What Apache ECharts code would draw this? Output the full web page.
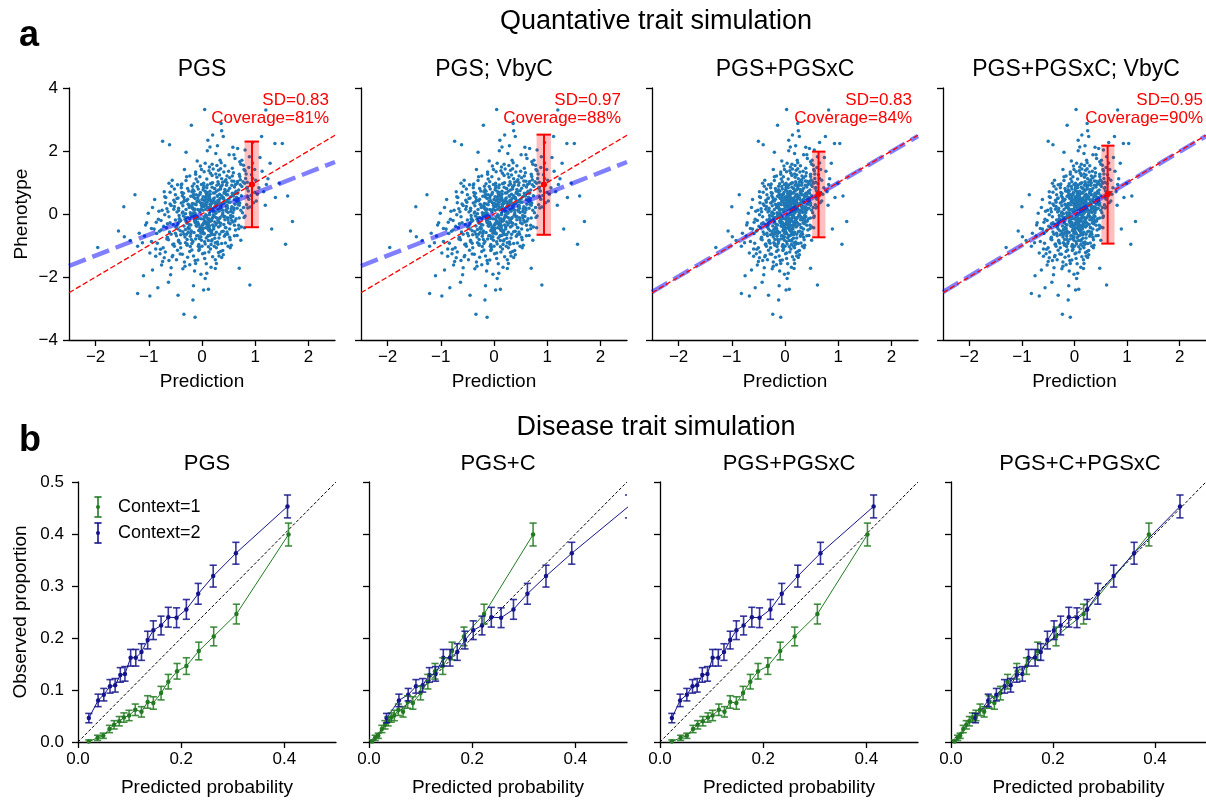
<!DOCTYPE html>
<html>
<head>
<meta charset="utf-8">
<script src="https://cdn.jsdelivr.net/npm/echarts@6/dist/echarts.min.js"></script>
<style>
html, body { margin: 0; padding: 0; background: #fff; }
#main { width: 1206px; height: 800px; }
</style>
</head>
<body>
<div id="main"></div>
<script>
var chart = echarts.init(document.getElementById('main'));
var FONT = '"Liberation Sans", Arial, sans-serif';

// ---------- a: quantitative trait ----------
var quantTitles = ['PGS', 'PGS; VbyC', 'PGS+PGSxC', 'PGS+PGSxC; VbyC'];
var predColumn = [0, 0, 1, 1];          // which prediction of the cloud each panel uses
var fitSlope = [0.66, 0.66, 0.99, 0.99];
var idealSlope = 1;
var binCenter = [0.94, 0.94, 0.63, 0.63];
var binMean = [0.94, 0.94, 0.63, 0.63];
var binLeft = [0.80, 0.80, 0.51, 0.51];
var binRight = [1.07, 1.07, 0.76, 0.76];
var binLow = [-0.42, -0.66, -0.74, -0.94];
var binHigh = [2.30, 2.52, 1.98, 2.17];
var binSD = ['0.83', '0.97', '0.83', '0.95'];
var coverage = [81, 88, 84, 90];
var predTicks = [-2, -1, 0, 1, 2];

// [prediction PGS, prediction PGS+PGSxC, phenotype]
var cloud = [
[0.12,0.08,-0.31],[-0.34,-0.23,0.52],[0.47,0.32,1.21],[-0.05,-0.03,-1.12],[0.71,0.48,0.35],[0.21,0.14,0.09],[-0.62,-0.42,-1.48],[0.02,0.01,0.77],
[0.33,0.22,-0.64],[-0.18,-0.12,0.18],[0.95,0.65,1.62],[0.08,0.05,-0.05],[-0.41,-0.28,-0.93],[0.56,0.38,1.05],[-0.09,-0.06,0.41],[0.27,0.18,-1.57],
[-0.77,-0.52,-0.21],[0.15,0.10,0.63],[0.39,0.27,0.12],[-0.26,-0.18,-0.58],[0.04,0.03,1.34],[0.62,0.42,-0.22],[-0.51,-0.35,0.37],[0.18,0.12,-0.86],
[1.21,0.82,0.94],[-0.13,-0.09,-0.27],[0.44,0.30,0.71],[0.06,0.04,-2.05],[-0.36,-0.24,0.06],[0.25,0.17,0.33],[-0.98,-0.67,-1.24],[0.51,0.35,1.88],
[-0.02,-0.01,0.15],[0.31,0.21,-0.41],[-0.22,-0.15,-1.03],[0.74,0.50,0.58],[0.10,0.07,0.92],[-0.47,-0.32,-0.37],[0.36,0.24,0.24],[-0.07,-0.05,-0.69],
[0.58,0.39,-0.08],[0.14,0.10,1.49],[-0.31,-0.21,-0.12],[0.83,0.56,1.27],[-0.14,-0.10,-1.81],[0.22,0.15,0.48],[-0.66,-0.45,-0.79],[0.40,0.27,-0.55],
[0.01,0.01,-0.36],[-0.39,-0.27,0.83],[0.66,0.45,0.97],[0.19,0.13,-0.14],[-0.11,-0.07,0.29],[0.49,0.33,-1.02],[-0.85,-0.58,-0.62],[0.29,0.20,2.17],
[1.02,0.69,0.41],[-0.24,-0.16,-0.45],[0.09,0.06,0.57],[0.37,0.25,1.12],[-0.56,-0.38,-1.36],[0.16,0.11,-0.23],[-0.03,-0.02,0.68],[0.69,0.47,-0.47],
[-0.19,-0.13,-0.07],[0.45,0.31,0.39],[-1.12,-0.76,-0.91],[0.23,0.16,0.81],[0.53,0.36,-0.31],[-0.08,-0.05,-1.46],[0.11,0.07,0.21],[-0.44,-0.30,0.11],
[0.30,0.20,-0.96],[0.78,0.53,1.55],[-0.28,-0.19,-0.29],[0.05,0.03,0.44],[-0.70,-0.48,-0.02],[0.42,0.29,0.66],[0.17,0.12,-0.59],[-0.15,-0.10,0.96],
[0.26,0.18,0.02],[-0.50,-0.34,-0.61],[0.87,0.59,0.73],[-0.01,-0.01,-0.83],[0.34,0.23,1.71],[-0.33,-0.22,0.44],[0.13,0.09,-1.21],[0.60,0.41,0.19],
[-0.12,-0.08,-0.18],[0.20,0.14,0.99],[-0.73,-0.50,-1.07],[0.48,0.33,-0.12],[0.07,0.05,-0.44],[-0.29,-0.20,1.18],[1.13,0.77,1.36],[-0.04,-0.03,0.07],
[0.38,0.26,0.53],[-0.60,-0.41,0.69],[0.03,0.02,-2.41],[0.24,0.16,-0.66],[-0.21,-0.14,-0.03],[0.67,0.46,1.03],[-0.93,-0.63,-1.78],[0.15,0.10,0.31],
[0.52,0.35,-0.74],[-0.16,-0.11,0.62],[0.28,0.19,0.27],[-0.45,-0.31,-0.48],[0.81,0.55,2.03],[-0.06,-0.04,-0.97],[0.35,0.24,0.86],[-1.35,-0.92,-0.84],
[0.09,0.06,-0.12],[0.61,0.41,0.46],[-0.37,-0.25,-1.28],[0.19,0.13,1.58],[-0.10,-0.07,-0.39],[0.43,0.29,-0.18],[-0.58,-0.39,0.27],[0.72,0.49,1.09],
[-0.25,-0.17,0.73],[0.11,0.07,-0.71],[0.90,0.61,0.22],[-0.03,-0.02,0.36],[0.32,0.22,-1.33],[-0.80,-0.54,-0.55],[0.21,0.14,0.67],[0.46,0.31,0.91],
[0.00,0.00,-0.58],[-0.43,-0.29,-0.16],[0.57,0.39,1.45],[0.14,0.10,0.03],[-0.17,-0.12,-0.87],[0.99,0.67,0.68],[-0.68,-0.46,0.52],[0.27,0.18,-0.29],
[0.36,0.24,0.15],[-0.08,-0.05,1.02],[0.63,0.43,-0.51],[-0.32,-0.22,-0.73],[0.06,0.04,0.54],[-1.04,-0.71,-0.28],[0.40,0.27,2.46],[0.17,0.12,-1.69],
[-0.53,-0.36,-0.95],[0.25,0.17,0.38],[0.75,0.51,0.87],[-0.14,-0.10,0.16],[0.10,0.07,-0.34],[-0.38,-0.26,0.95],[0.49,0.33,0.05],[1.28,0.87,1.61],
[-0.20,-0.14,-0.54],[0.04,0.03,0.24],[0.55,0.37,-0.99],[-0.63,-0.43,-2.17],[0.31,0.21,0.76],[-0.01,-0.01,1.41],[0.68,0.46,0.31],[-0.27,-0.18,-0.11],
[0.22,0.15,-0.41],[-0.75,-0.51,0.12],[0.41,0.28,1.33],[0.08,0.05,-0.76],[-0.35,-0.24,0.38],[0.85,0.58,1.01],[-0.11,-0.07,-0.25],[0.59,0.40,0.62],
[-0.46,-0.31,-1.15],[0.16,0.11,0.13],[0.34,0.23,-0.37],[-0.89,-0.61,0.46],[0.04,0.03,0.89],[0.70,0.48,-0.13],[-0.23,-0.16,-1.61],[0.28,0.19,1.17],
[1.07,0.73,0.83],[-0.13,-0.09,0.49],[0.12,0.08,-1.04],[-0.54,-0.37,-0.33],[0.47,0.32,0.28],[-0.02,-0.01,-0.15],[0.26,0.18,1.92],[-0.31,-0.21,0.01],
[0.64,0.44,0.44],[0.03,0.02,-0.62],[-0.71,-0.48,-1.39],[0.37,0.25,0.58],[-0.07,-0.05,0.79],[0.18,0.12,-0.21],[-0.40,-0.27,-0.66],[0.93,0.63,1.25],
[-0.16,-0.11,-2.28],[0.44,0.30,-0.43],[0.09,0.06,1.11],[-0.26,-0.18,0.31],[0.76,0.52,0.04],[-0.95,-0.65,-0.46],[0.21,0.14,0.42],[0.53,0.36,-0.82],
[-0.04,-0.03,0.63],[0.30,0.20,0.14],[-0.57,-0.39,0.88],[0.13,0.09,-0.52],[0.62,0.42,1.76],[-0.19,-0.13,-0.94],[1.38,0.94,0.52],[-0.09,-0.06,-0.29],
[0.39,0.27,-0.02],[-0.33,-0.22,-1.52],[0.07,0.05,0.26],[0.80,0.54,0.98],[-0.64,-0.44,0.07],[0.24,0.16,-0.77],[-0.12,-0.08,1.26],[0.50,0.34,0.37],
[-1.21,-0.82,-1.02],[0.19,0.13,0.85],[0.35,0.24,-1.19],[-0.05,-0.03,0.11],[0.58,0.39,0.61],[-0.42,-0.29,-0.24],[0.02,0.01,-0.46],[0.73,0.50,1.58],
[0.15,0.10,0.47],[-0.28,-0.19,-0.81],[0.46,0.31,0.09],[-0.82,-0.56,-0.17],[0.11,0.07,2.34],[0.32,0.22,-0.26],[-0.15,-0.10,-0.59],[1.16,0.79,0.71],
[-0.37,-0.25,0.58],[0.05,0.03,-1.24],[0.66,0.45,0.39],[-0.09,-0.06,-0.08],[0.27,0.18,0.72],[-0.59,-0.40,-1.93],[0.43,0.29,1.04],[0.01,0.01,0.33],
[0.20,0.14,-0.65],[-0.24,-0.16,0.28],[0.88,0.60,1.48],[-0.48,-0.33,-0.69],[0.14,0.10,0.18],[0.52,0.35,0.82],[-1.46,-0.99,-0.72],[0.33,0.22,-0.14],
[-0.06,-0.04,-0.33],[0.61,0.41,-0.36],[-0.30,-0.20,1.06],[0.23,0.16,0.51],[-0.69,-0.47,-1.21],[0.09,0.06,-1.88],[0.42,0.29,0.69],[-0.18,-0.12,0.19],
[0.71,0.48,1.19],[-0.02,-0.01,-0.48],[0.29,0.20,0.36],[-0.52,-0.35,0.24],[0.17,0.12,-0.97],[-0.87,-0.59,-1.11],[0.54,0.37,-0.05],[0.06,0.04,1.61],
[-0.34,-0.23,-0.38],[0.38,0.26,0.92],[0.12,0.08,-0.24],[1.01,0.69,1.07],[-0.21,-0.14,0.56],[0.25,0.17,-1.45],[-0.62,-0.42,-0.09],[0.46,0.31,0.25],
[0.03,0.02,0.84],[-0.44,-0.30,-0.87],[0.67,0.46,0.66],[-0.13,-0.09,-0.02],[0.31,0.21,1.39],[-1.06,-0.72,-0.35],[0.18,0.12,-0.53],[0.84,0.57,0.29],
[-0.27,-0.18,-1.37],[0.10,0.07,0.38],[0.48,0.33,-0.64],[-0.08,-0.05,0.51],[0.57,0.39,1.21],[-0.39,-0.27,0.35],[0.22,0.15,0.06],[-0.76,-0.52,-1.62],
[0.35,0.24,0.79],[-0.10,-0.07,-0.69],[0.78,0.53,0.21],[0.07,0.05,-0.31],[-0.50,-0.34,0.61],[0.29,0.20,-0.89],[-0.03,-0.02,1.52],[0.63,0.43,0.94],
[-0.22,-0.15,0.04],[0.16,0.11,-1.11],[1.24,0.84,1.12],[-0.67,-0.46,-0.44],[0.41,0.28,0.47],[-0.14,-0.10,-0.22],[0.08,0.05,0.65],[0.50,0.34,-0.28],
[-0.93,-0.63,0.21],[0.26,0.18,1.27],[-0.05,-0.03,-1.05],[0.60,0.41,0.13],[0.13,0.09,-0.16],[-0.36,-0.24,-0.56],[0.89,0.61,1.82],[0.00,0.00,0.22],
[0.44,0.30,-0.92],[-0.17,-0.12,0.77],[0.23,0.16,0.08],[-0.55,-0.37,-0.97],[0.69,0.47,0.76],[0.04,0.03,-0.63],[-0.29,-0.20,0.42],[0.37,0.25,2.64],
[0.11,0.07,-0.47],[-0.72,-0.49,-0.39],[0.54,0.37,0.55],[-0.12,-0.08,1.33],[0.30,0.20,-0.20],[0.97,0.66,0.36],[-0.41,-0.28,-1.27],[0.19,0.13,0.34],
[-0.07,-0.05,-0.14],[0.45,0.31,1.09],[-0.25,-0.17,-0.48],[0.74,0.50,-0.41],[0.06,0.04,0.72],[-1.18,-0.80,-0.61],[0.33,0.22,0.17],[-0.46,-0.31,0.93],
[0.27,0.18,-1.07],[0.02,0.01,0.55],[0.81,0.55,1.37],[-0.32,-0.22,-0.17],[0.15,0.10,-0.68],[-0.60,-0.41,0.32],[0.49,0.33,0.74],[1.45,0.99,0.98],
[-0.20,-0.14,-0.81],[0.39,0.27,0.03],[-0.01,-0.01,0.94],[0.58,0.39,-0.25],[-0.84,-0.57,-0.93],[0.21,0.14,1.43],[-0.11,-0.07,-0.36],[0.65,0.44,0.53],
[0.08,0.05,-1.58],[-0.53,-0.36,0.15],[0.32,0.22,0.41],[-0.23,-0.16,-1.19],[0.92,0.63,0.59],[0.14,0.10,-0.02],[-0.38,-0.26,0.68],[0.47,0.32,-0.57],
[-0.65,-0.44,-0.74],[0.24,0.16,0.22],[0.04,0.03,-0.27],[0.71,0.48,1.66],[-0.15,-0.10,0.12],[0.40,0.27,-1.29],[-1.01,-0.69,0.02],[0.18,0.12,0.98],
[0.56,0.38,0.23],[-0.06,-0.04,-0.52],[0.28,0.19,1.54],[-0.45,-0.31,-0.29],[0.12,0.08,0.46],[0.79,0.54,-0.11],[-0.28,-0.19,-0.95],[0.36,0.24,0.88],
[-0.09,-0.06,0.39],[0.62,0.42,0.67],[-0.58,-0.39,-1.71],[0.20,0.14,-0.35],[1.09,0.74,1.79],[-0.19,-0.13,0.71],[0.43,0.29,-0.08],[0.05,0.03,-0.88],
[0.33,0.22,0.63],[-0.79,-0.54,-1.26],[0.16,0.11,0.26],[-0.03,-0.02,-0.41],[0.52,0.35,1.15],[-0.35,-0.24,-0.06],[0.73,0.50,0.12],[0.10,0.07,2.01],
[-0.43,-0.29,-0.05],[0.25,0.17,-0.91],[0.85,0.58,0.84],[-0.16,-0.11,-1.33],[0.38,0.26,0.32],[-0.70,-0.48,0.55],[0.07,0.05,-0.07],[0.59,0.40,1.31],
[0.17,0.12,-0.19],[-0.27,-0.18,0.47],[0.48,0.33,0.18],[-0.02,-0.01,-0.72],[0.29,0.20,0.56],[-0.49,-0.33,-0.42],[0.09,0.06,0.83],[0.66,0.45,-0.68],
[-0.13,-0.09,-1.48],[0.35,0.24,0.27],[0.02,0.01,0.12],[-0.61,-0.41,-0.57],[0.56,0.38,0.91],[0.22,0.15,-0.48],[-0.30,-0.20,0.14],[0.77,0.52,1.02],
[0.06,0.04,-0.23],[-0.40,-0.27,-1.07],[0.31,0.21,0.95],[-0.18,-0.12,0.33],[0.45,0.31,-0.44],[0.13,0.09,0.59],[-0.86,-0.58,-0.26],[0.26,0.18,0.05],
[0.51,0.35,0.48],[-0.08,-0.05,-0.26],[0.19,0.13,1.22],[-0.34,-0.23,-0.64],[0.70,0.48,0.28],[0.00,0.00,-1.02],[-0.52,-0.35,0.79],[0.41,0.28,-0.33],
[-0.24,-0.16,0.21],[0.12,0.08,-0.84],[0.60,0.41,1.04],[-0.14,-0.10,-0.12],[0.34,0.23,0.49],[-0.74,-0.50,-1.51],[0.23,0.16,-0.07],[0.03,0.02,0.44],
[0.42,0.29,-0.71],[-0.21,-0.14,-0.35],[0.15,0.10,0.72],[0.68,0.46,0.41],[-0.47,-0.32,0.06],[0.27,0.18,-0.12],[-0.04,-0.03,1.18],[0.86,0.58,0.55],
[-0.31,-0.21,-0.91],[0.08,0.05,0.29],[0.37,0.25,-0.56],[-0.11,-0.07,0.61],[0.53,0.36,0.37],[-0.63,-0.43,-0.82],[0.20,0.14,0.15],[0.99,0.67,1.41],
[0.04,0.03,-0.61],[-0.36,-0.24,0.26],[0.64,0.44,-0.15],[0.16,0.11,0.42],[-0.06,-0.04,-1.16],[0.46,0.31,0.61],[-0.90,-0.61,-0.48],[0.30,0.20,1.02],
[-0.17,-0.12,0.02],[0.55,0.37,0.16],[0.11,0.07,-0.37],[-0.42,-0.29,-0.15],[0.82,0.56,1.13],[0.24,0.16,0.81],[-0.05,-0.03,-0.53],[0.39,0.27,-1.16],
[0.14,0.10,0.53],[-0.55,-0.37,-1.32],[0.47,0.32,0.43],[-0.23,-0.16,1.21],[0.07,0.05,-0.02],[0.61,0.41,0.86],[-0.12,-0.08,-0.79],[0.32,0.22,0.09],
[0.18,0.12,0.36],[-0.22,-0.15,-0.71],[0.54,0.37,0.08],[-0.47,-0.32,0.49],[0.05,0.03,-1.41],[0.36,0.24,1.63],[-0.10,-0.07,-0.12],[0.73,0.50,-0.83],
[-0.60,-0.41,-0.28],[0.27,0.18,-0.58],[0.10,0.07,0.68],[-0.33,-0.22,1.41],[0.64,0.44,0.72],[-0.02,-0.01,-1.91],[0.42,0.29,0.35],[-0.81,-0.55,0.09],
[0.31,0.21,-1.22],[-0.07,-0.05,0.58],[0.88,0.60,0.47],[0.13,0.09,-0.49],[-0.41,-0.28,-0.53],[0.50,0.34,1.36],[-0.18,-0.12,0.88],[0.22,0.15,-0.09],
[-0.36,-0.24,-1.74],[0.60,0.41,1.88],[0.02,0.01,-0.31],[-0.71,-0.48,0.71],[0.44,0.30,-0.65],[0.16,0.11,0.96],[-0.26,-0.18,-0.43],[1.04,0.71,0.63],
[0.07,0.05,0.15],[-0.52,-0.35,-1.02],[0.38,0.26,-0.04],[-0.09,-0.06,1.68],[0.69,0.47,-0.36],[0.25,0.17,0.23],[-0.95,-0.65,-0.87],[0.12,0.08,-0.68],
[0.47,0.32,0.99],[-0.14,-0.10,0.32],[0.20,0.14,-1.36],[-0.44,-0.30,0.18],[0.79,0.54,1.41],[0.00,0.00,0.46],[-0.28,-0.19,-0.99],[0.58,0.39,0.04],
[-0.05,-0.03,-0.78],[0.34,0.23,-0.11],[-0.65,-0.44,-0.31],[0.15,0.10,2.13],[0.53,0.36,-1.07],[-0.19,-0.13,0.25],[0.91,0.62,0.96],[0.09,0.06,0.61],
[-0.39,-0.27,0.92],[0.26,0.18,-0.35],[0.66,0.45,0.18],[-0.12,-0.08,-1.57],[0.40,0.27,0.52],[-0.77,-0.52,-0.51],[0.03,0.02,0.98],[0.49,0.33,-0.19],
[0.21,0.14,-0.03],[-0.30,-0.20,-0.24],[0.75,0.51,1.71],[-0.01,-0.01,0.28],[0.32,0.22,-0.76],[-0.56,-0.38,1.07],[0.14,0.10,-0.46],[1.19,0.81,0.28],
[-0.16,-0.11,0.54],[0.43,0.29,0.78],[0.06,0.04,-0.95],[-0.48,-0.33,-1.45],[0.62,0.42,0.31],[0.24,0.16,-0.25],[-0.08,-0.05,0.14],[0.35,0.24,1.44],
[0.11,0.07,-0.15],[-0.69,-0.47,0.36],[0.52,0.35,-0.48],[-0.21,-0.14,-0.62],[0.28,0.19,0.91],[0.84,0.57,0.82],[-0.37,-0.25,0.03],[0.01,0.01,-1.26],
[0.45,0.31,0.13],[-0.11,-0.07,1.11],[0.19,0.13,-0.82],[-0.58,-0.39,-0.64],[0.70,0.48,1.26],[0.08,0.05,0.37],[-0.24,-0.16,-0.33],[0.37,0.25,-1.38],
[-0.87,-0.59,-1.34],[0.30,0.20,0.44],[0.04,0.03,-0.09],[0.57,0.39,0.66],[-0.15,-0.10,0.72],[0.23,0.16,-1.02],[-0.45,-0.31,0.51],[0.81,0.55,-0.06],
[0.16,0.11,1.29],[-0.31,-0.21,-0.49],[0.48,0.33,0.61],[-0.04,-0.03,-0.44],[0.35,0.24,-0.29],[-0.62,-0.42,0.98],[0.12,0.08,0.19],[0.67,0.46,2.08],
[-0.19,-0.13,-1.14],[0.41,0.28,-0.09],[0.08,0.05,0.49],[-0.40,-0.27,-0.21],[0.95,0.65,1.13],[0.18,0.12,-0.57],[-0.06,-0.04,0.42],[0.29,0.20,0.58],
[0.56,0.38,-0.21],[-0.27,-0.18,0.81],[0.13,0.09,1.37],[-0.78,-0.53,-1.12],[0.37,0.25,-0.94],[0.03,0.02,-0.17],[0.72,0.49,0.93],[-0.13,-0.09,0.03],
[0.24,0.16,0.67],[-0.50,-0.34,-0.19],[0.61,0.41,-0.69],[-0.07,-0.05,-1.02],[0.43,0.29,1.53],[0.10,0.07,-0.28],[-0.35,-0.24,0.66],[0.86,0.58,0.19],
[-0.23,-0.16,-0.14],[0.32,0.22,0.34],[-1.08,-0.73,-0.70],[0.19,0.13,0.17],[0.54,0.37,-0.12],[-0.02,-0.01,-0.61],[0.39,0.27,1.01],[-0.44,-0.30,-0.83],
[0.06,0.04,0.31],[0.68,0.46,0.49],[-0.29,-0.20,-0.64],[0.25,0.17,-1.73],[-0.09,-0.06,0.87],[0.47,0.32,0.22],[-0.66,-0.45,0.17],[0.14,0.10,-0.37],
[0.80,0.54,-0.44],[-0.16,-0.11,-0.05],[0.33,0.22,1.24],[0.01,0.01,-0.55],[-0.53,-0.36,0.44],[0.59,0.40,0.57],[0.20,0.14,-0.11],[-0.32,-0.22,-1.66],
[-1.96,-1.30,-1.06],[1.70,1.16,-0.24],[-0.34,-0.23,-3.18],[-0.13,-0.08,-3.28],[0.05,0.03,3.32],[1.20,0.82,3.30],[-0.20,-0.14,2.82],[1.61,1.09,0.57],
[1.57,1.07,-0.96],[1.51,1.03,2.24],[1.37,0.93,2.24],[-1.57,-1.07,-0.54],[-1.47,-1.00,0.23],[-1.21,-0.82,-2.52],[-0.98,-0.67,-2.60],[-0.74,-0.50,2.31],
[-0.61,-0.41,2.20],[0.90,0.61,-2.25],[1.31,0.89,-0.48],[-1.26,-0.86,0.61],[0.36,0.24,2.87],[-0.45,-0.31,-2.58],[1.12,0.76,2.46],[-1.10,-0.75,-1.96],
[-0.17,-0.12,-2.73],[0.12,0.08,-2.39],[0.95,0.65,2.27],[0.20,0.14,2.51],[-0.83,-0.56,-2.34],[0.70,0.48,-1.72],[-0.30,-0.20,1.96],[0.58,0.39,2.12]
];

// ---------- b: disease trait ----------
var diseaseTitles = ['PGS', 'PGS+C', 'PGS+PGSxC', 'PGS+C+PGSxC'];
var contextNames = ['Context=1', 'Context=2'];
var contextColors = ['#237a23', '#14148c'];
var observed = [
  [0.001,0.008,0.012,0.025,0.033,0.040,0.047,0.051,0.062,0.058,0.077,0.075,0.094,0.116,0.136,0.146,0.175,0.203,0.246,0.399],
  [0.046,0.080,0.091,0.107,0.109,0.129,0.131,0.162,0.162,0.173,0.196,0.215,0.224,0.240,0.239,0.255,0.285,0.319,0.363,0.453]
];
var observedErr = [
  [0.003,0.005,0.005,0.007,0.008,0.009,0.009,0.010,0.011,0.010,0.012,0.012,0.013,0.014,0.015,0.016,0.017,0.018,0.019,0.022],
  [0.009,0.012,0.012,0.013,0.013,0.014,0.014,0.016,0.016,0.016,0.017,0.018,0.018,0.019,0.019,0.019,0.020,0.021,0.021,0.022]
];
// predicted probability per panel, context 1
var predicted1 = [
  [0.021,0.038,0.049,0.061,0.070,0.080,0.089,0.099,0.111,0.123,0.135,0.146,0.161,0.175,0.192,0.210,0.234,0.263,0.307,0.408],
  [0.006,0.012,0.018,0.025,0.031,0.037,0.043,0.049,0.057,0.066,0.075,0.085,0.100,0.114,0.128,0.143,0.161,0.184,0.223,0.318],
  [0.023,0.040,0.052,0.064,0.073,0.083,0.093,0.102,0.114,0.125,0.136,0.148,0.161,0.175,0.190,0.209,0.233,0.261,0.305,0.402],
  [0.007,0.013,0.018,0.024,0.030,0.036,0.042,0.049,0.057,0.065,0.075,0.085,0.097,0.111,0.129,0.148,0.170,0.206,0.260,0.388]
];
// predicted probability per panel, context 2
var predicted2 = [
  [0.021,0.039,0.050,0.062,0.072,0.082,0.091,0.102,0.112,0.123,0.135,0.146,0.161,0.175,0.191,0.210,0.233,0.262,0.306,0.406],
  [0.034,0.058,0.076,0.091,0.104,0.117,0.129,0.144,0.157,0.171,0.186,0.202,0.219,0.237,0.256,0.280,0.307,0.343,0.393,0.503],
  [0.023,0.039,0.052,0.063,0.072,0.082,0.092,0.102,0.113,0.124,0.136,0.148,0.162,0.178,0.193,0.214,0.236,0.267,0.311,0.414],
  [0.048,0.073,0.089,0.105,0.117,0.129,0.140,0.152,0.165,0.176,0.189,0.202,0.215,0.231,0.247,0.267,0.288,0.319,0.359,0.449]
];
var probTicks = [0, 0.2, 0.4];

// ---------- layout ----------
var topLeft = [69, 361, 652, 943], topY = 88, topW = 266, topH = 252;
var botLeft = [78, 369, 660, 951], botY = 482, botW = 258, botH = 260;

function minus(v) { return String(v).replace('-', '\u2212'); }
var axisLineStyle = { color: '#000', width: 1.3 };
var tickStyle = { show: true, inside: false, length: 6, lineStyle: { color: '#000', width: 1.3 } };
var labelStyle = { color: '#000', fontSize: 17, fontFamily: FONT };
var nameStyle = { color: '#000', fontSize: 19, fontFamily: FONT };

var grids = [], xAxes = [], yAxes = [], series = [], graphics = [];

for (var i = 0; i < 4; i++) {
  grids.push({ left: topLeft[i], top: topY, width: topW, height: topH });
  xAxes.push({
    gridIndex: i, type: 'value', min: -2.5, max: 2.5,
    axisLine: { onZero: false, lineStyle: axisLineStyle },
    axisTick: Object.assign({ customValues: predTicks }, tickStyle),
    axisLabel: Object.assign({ customValues: predTicks, formatter: minus, margin: 9 }, labelStyle),
    splitLine: { show: false },
    name: 'Prediction', nameLocation: 'middle', nameGap: 32, nameTextStyle: nameStyle
  });
  yAxes.push({
    gridIndex: i, type: 'value', min: -4, max: 4, interval: 2,
    axisLine: { show: true, onZero: false, lineStyle: axisLineStyle },
    axisTick: tickStyle,
    axisLabel: Object.assign({ show: i === 0, formatter: minus, margin: 11 }, labelStyle),
    splitLine: { show: false },
    name: i === 0 ? 'Phenotype' : '', nameLocation: 'middle', nameGap: 38, nameTextStyle: nameStyle
  });

  var col = predColumn[i];
  series.push({
    type: 'scatter', xAxisIndex: i, yAxisIndex: i, z: 2,
    symbolSize: 3.5, itemStyle: { color: '#1f77b4', opacity: 1 },
    data: cloud.map(function (p) { return [p[col], p[2]]; })
  });
  series.push({
    type: 'line', xAxisIndex: i, yAxisIndex: i, z: 3, symbol: 'none',
    lineStyle: { color: 'rgba(0,0,255,0.5)', width: 4.5, type: [18, 7], cap: 'butt' },
    data: [[-2.5, -2.5 * fitSlope[i]], [2.5, 2.5 * fitSlope[i]]]
  });
  series.push({
    type: 'line', xAxisIndex: i, yAxisIndex: i, z: 4, symbol: 'none',
    lineStyle: { color: '#ff0000', width: 1.3, type: [5.5, 2.5] },
    data: [[-2.5, -2.5 * idealSlope], [2.5, 2.5 * idealSlope]]
  });
  series.push({
    type: 'custom', xAxisIndex: i, yAxisIndex: i, z: 5,
    data: [[binCenter[i], binMean[i], binLow[i], binHigh[i], binLeft[i], binRight[i]]],
    renderItem: function (params, api) {
      var c = api.value(0), m = api.value(1), lo = api.value(2), hi = api.value(3);
      var l = api.value(4), r = api.value(5);
      var tl = api.coord([l, hi]), br = api.coord([r, lo]);
      var pt = api.coord([c, hi]), pb = api.coord([c, lo]), pm = api.coord([c, m]);
      var st = { stroke: '#ff0000', lineWidth: 2 };
      return { type: 'group', children: [
        { type: 'rect', shape: { x: tl[0], y: tl[1], width: br[0] - tl[0], height: br[1] - tl[1] },
          style: { fill: 'rgba(255,0,0,0.25)' } },
        { type: 'line', shape: { x1: pt[0], y1: pt[1], x2: pb[0], y2: pb[1] }, style: st },
        { type: 'line', shape: { x1: tl[0], y1: tl[1], x2: br[0], y2: tl[1] }, style: st },
        { type: 'line', shape: { x1: tl[0], y1: br[1], x2: br[0], y2: br[1] }, style: st },
        { type: 'circle', shape: { cx: pm[0], cy: pm[1], r: 3 }, style: { fill: '#ff0000' } }
      ] };
    }
  });

  graphics.push({ type: 'text', x: topLeft[i] + topW / 2, y: 70,
    style: { text: quantTitles[i], fill: '#000', font: '23px ' + FONT, align: 'center', verticalAlign: 'middle' } });
  graphics.push({ type: 'text', x: topLeft[i] + topW - 6, y: 100,
    style: { text: 'SD=' + binSD[i], fill: '#ff0000', font: '17px ' + FONT, align: 'right', verticalAlign: 'middle' } });
  graphics.push({ type: 'text', x: topLeft[i] + topW - 6, y: 118,
    style: { text: 'Coverage=' + coverage[i] + '%', fill: '#ff0000', font: '17px ' + FONT, align: 'right', verticalAlign: 'middle' } });
}

function errorBars(color) {
  return function (params, api) {
    var x = api.value(0), y = api.value(1), e = api.value(2);
    var t = api.coord([x, y + e]), b = api.coord([x, y - e]);
    var w = 3.6;
    var st = { stroke: color, lineWidth: 1.6, opacity: 0.85 };
    return { type: 'group', children: [
      { type: 'line', shape: { x1: t[0], y1: t[1], x2: b[0], y2: b[1] }, style: st },
      { type: 'line', shape: { x1: t[0] - w, y1: t[1], x2: t[0] + w, y2: t[1] }, style: st },
      { type: 'line', shape: { x1: b[0] - w, y1: b[1], x2: b[0] + w, y2: b[1] }, style: st }
    ] };
  };
}

for (var j = 0; j < 4; j++) {
  var g = 4 + j;
  grids.push({ left: botLeft[j], top: botY, width: botW, height: botH });
  xAxes.push({
    gridIndex: g, type: 'value', min: 0, max: 0.5,
    axisLine: { onZero: false, lineStyle: axisLineStyle },
    axisTick: Object.assign({ customValues: probTicks }, tickStyle),
    axisLabel: Object.assign({ customValues: probTicks, formatter: function (v) { return v.toFixed(1); }, margin: 9 }, labelStyle),
    splitLine: { show: false },
    name: 'Predicted probability', nameLocation: 'middle', nameGap: 36, nameTextStyle: nameStyle
  });
  yAxes.push({
    gridIndex: g, type: 'value', min: 0, max: 0.5, interval: 0.1,
    axisLine: { show: true, onZero: false, lineStyle: axisLineStyle },
    axisTick: tickStyle,
    axisLabel: Object.assign({ show: j === 0, formatter: function (v) { return v.toFixed(1); }, margin: 14 }, labelStyle),
    splitLine: { show: false },
    name: j === 0 ? 'Observed proportion' : '', nameLocation: 'middle', nameGap: 48, nameTextStyle: nameStyle
  });
  series.push({
    type: 'line', xAxisIndex: g, yAxisIndex: g, z: 2, symbol: 'none',
    lineStyle: { color: '#000', width: 1, type: [3, 2] },
    data: [[0, 0], [0.5, 0.5]]
  });
  var preds = [predicted1[j], predicted2[j]];
  for (var k = 0; k < 2; k++) {
    var pts = preds[k].map(function (p, n) { return [p, observed[k][n], observedErr[k][n]]; });
    series.push({
      type: 'line', name: contextNames[k], xAxisIndex: g, yAxisIndex: g, z: 3,
      symbol: 'circle', symbolSize: 4.5, showSymbol: true,
      itemStyle: { color: contextColors[k] },
      lineStyle: { color: contextColors[k], width: 1 },
      data: pts.map(function (p) { return [p[0], p[1]]; })
    });
    series.push({
      type: 'custom', xAxisIndex: g, yAxisIndex: g, z: 4, clip: true,
      renderItem: errorBars(contextColors[k]),
      data: pts
    });
  }
  graphics.push({ type: 'text', x: botLeft[j] + botW / 2, y: 464,
    style: { text: diseaseTitles[j], fill: '#000', font: '22px ' + FONT, align: 'center', verticalAlign: 'middle' } });
}

// legend of the first disease panel (error bar glyphs)
for (var k2 = 0; k2 < 2; k2++) {
  var cy = 507 + 26 * k2, col2 = contextColors[k2];
  var ls = { stroke: col2, lineWidth: 1.6 };
  graphics.push({ type: 'line', shape: { x1: 98, y1: cy - 10, x2: 98, y2: cy + 10 }, style: ls });
  graphics.push({ type: 'line', shape: { x1: 94.4, y1: cy - 10, x2: 101.6, y2: cy - 10 }, style: ls });
  graphics.push({ type: 'line', shape: { x1: 94.4, y1: cy + 10, x2: 101.6, y2: cy + 10 }, style: ls });
  graphics.push({ type: 'circle', shape: { cx: 98, cy: cy, r: 2 }, style: { fill: col2 } });
  graphics.push({ type: 'text', x: 118, y: cy,
    style: { text: contextNames[k2], fill: '#000', font: '18px ' + FONT, align: 'left', verticalAlign: 'middle' } });
}

graphics.push({ type: 'text', x: 656, y: 22,
  style: { text: 'Quantative trait simulation', fill: '#000', font: '27px ' + FONT, align: 'center', verticalAlign: 'middle' } });
graphics.push({ type: 'text', x: 656, y: 428,
  style: { text: 'Disease trait simulation', fill: '#000', font: '27px ' + FONT, align: 'center', verticalAlign: 'middle' } });
graphics.push({ type: 'text', x: 19, y: 36,
  style: { text: 'a', fill: '#000', font: 'bold 36px ' + FONT, align: 'left', verticalAlign: 'middle' } });
graphics.push({ type: 'text', x: 19, y: 441,
  style: { text: 'b', fill: '#000', font: 'bold 36px ' + FONT, align: 'left', verticalAlign: 'middle' } });

var option = {
  animation: false,
  backgroundColor: '#fff',
  grid: grids,
  xAxis: xAxes,
  yAxis: yAxes,
  series: series,
  graphic: graphics
};

chart.setOption(option);
</script>
</body>
</html>
